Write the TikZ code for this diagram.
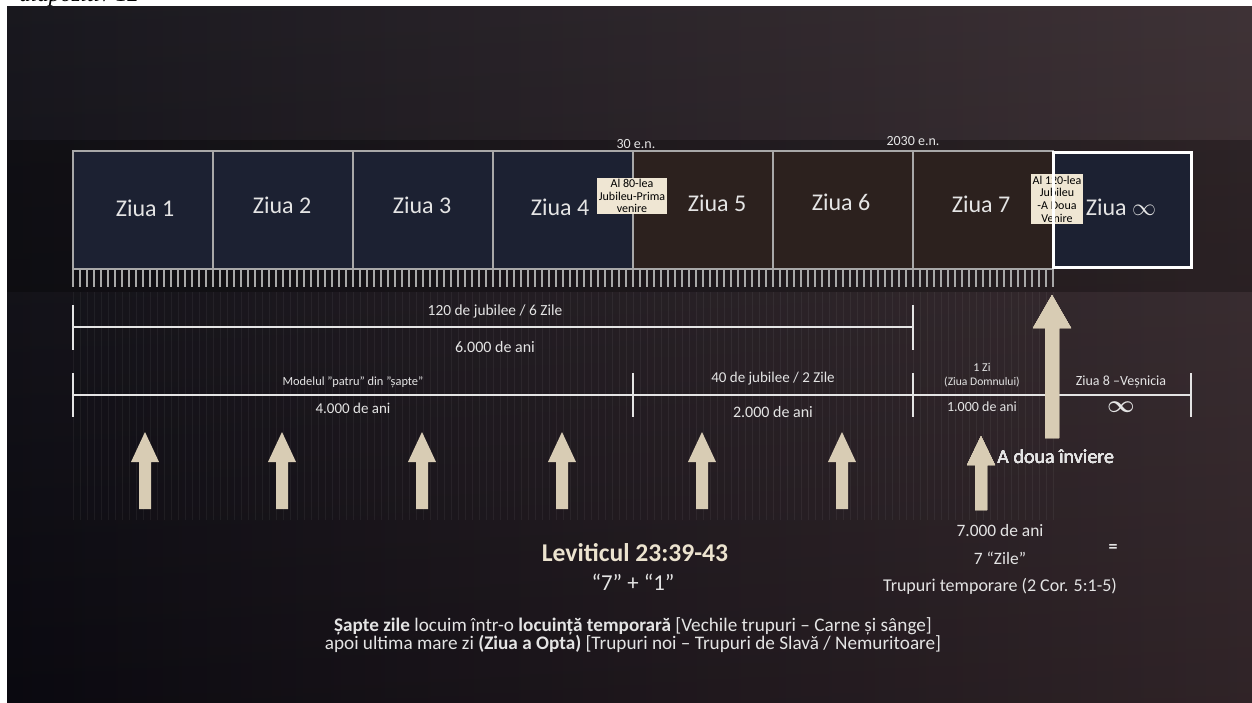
\documentclass[tikz,border=0pt]{standalone}
\usepackage{fontspec}
\setmainfont{Carlito}
\newfontfamily\capfont{Liberation Serif}
\usetikzlibrary{calc}
\definecolor{SLDdark}{HTML}{0B0A11}
\definecolor{SLDmid}{HTML}{161119}
\definecolor{SLDbrown}{HTML}{33262A}
\definecolor{SLDnavy}{HTML}{1C2132}
\definecolor{SLDrust}{HTML}{2C211E}
\definecolor{SLDbeige}{HTML}{D8CCB4}
\definecolor{SLDtag}{HTML}{EFE6D3}
\definecolor{SLDline}{HTML}{A8A8A8}
\definecolor{SLDtext}{HTML}{E4E4E4}
\definecolor{SLDlev}{HTML}{ECE3CF}

\tikzset{
  daybox/.style={draw=SLDline, line width=1pt},
  daylabel/.style={text=SLDtext, font=\fontsize{12}{14}\selectfont},
  tagbox/.style={fill=SLDtag, text=black, inner sep=0.7pt, align=center,
    font=\fontsize{6}{6.3}\selectfont},
  span/.style={draw=SLDtext, line width=1.2pt},
  spantext/.style={text=SLDtext, inner sep=0pt},
}
% up arrow: x, tip y, bottom y, head half width, shaft half width, head base y
\newcommand{\beamup}[6]{%
  \fill[SLDbeige] ({#1-#5},#3) -- ({#1-#5},#6) -- ({#1-#4},#6) -- (#1,#2)
    -- ({#1+#4},#6) -- ({#1+#5},#6) -- ({#1+#5},#3) -- cycle;}

\begin{document}
\begin{tikzpicture}[x=0.5pt, y=-0.5pt]
  \useasboundingbox (0,0) rectangle (1252,702);
  \fill[white] (0,0) rectangle (1252,702);
  % Caption cut off at the top
  \node[anchor=base west, inner sep=0pt, font=\capfont\itshape\fontsize{11.5}{12}\selectfont]
    (caption) at (19,1) {diapozitiv 12};
  % Slide background
  \shade[left color=SLDdark, middle color=SLDmid, right color=SLDbrown] (7,6) rectangle (1252,702);
  \shade[top color=white, bottom color=black, opacity=0.06] (7,6) rectangle (1252,702);
  \fill[black, opacity=0.25] (7,140) rectangle (1252,292);
  % Faint stripes under the ruler
  \foreach \x in {73,80,...,1053}
    \draw[white, opacity=0.05, line width=0.5pt] (\x,292) -- (\x,520);

  % Day boxes
  \foreach \xa/\fc/\lbl/\lx/\ly [count=\i] in
    {73/SLDnavy/Ziua 1/145/208, 213/SLDnavy/Ziua 2/282/205,
     353/SLDnavy/Ziua 3/422/205, 493/SLDnavy/Ziua 4/560/207,
     633/SLDrust/Ziua 5/717/203, 773/SLDrust/Ziua 6/841/202,
     913/SLDrust/Ziua 7/981/204}
  {
    \fill[\fc] (\xa,151) rectangle ({\xa+140},269);
    \draw[daybox] (\xa,151) rectangle ({\xa+140},269);
    \node[daylabel] (z\i) at (\lx,\ly) {\lbl};
  }
  % Eighth day
  \fill[SLDnavy] (1053,152) rectangle (1191,267);
  \node[daylabel] (zinf) at (1121,207) {Ziua $\infty$};

  % Jubilee tags
  \node[tagbox] (tag80) at (632,196) {Al 80-lea\\Jubileu-Prima\\venire};
  \node[tagbox] (tag120) at (1057,199) {Al 120-lea\\Jubileu\\-A Doua\\Venire};
  \draw[white, line width=1.5pt] (1053,152) rectangle (1191,267);

  % Ruler, one tick per jubilee
  \foreach \x in {73,80,...,1053}
    \draw[SLDline, line width=0.7pt] (\x,270) -- (\x,287);

  % Dates
  \node[spantext, font=\fontsize{7}{8}\selectfont] (en30) at (636,144) {30 e.n.};
  \node[spantext, font=\fontsize{7}{8}\selectfont] (en2030) at (913,141) {2030 e.n.};

  % Upper span: six days
  \coordinate (u0) at (73,327);
  \coordinate (u1) at (913,327);
  \draw[span] (u0) -- (u1);
  \draw[span] ($(u0)+(0,-22)$) -- ($(u0)+(0,23)$);
  \draw[span] ($(u1)+(0,-22)$) -- ($(u1)+(0,23)$);
  \node[spantext, font=\fontsize{7.7}{9}\selectfont] (jub120) at (495,311) {120 de jubilee / 6 Zile};
  \node[spantext, font=\fontsize{8}{9}\selectfont] (ani6000) at (495,347) {6.000 de ani};

  % Lower span: 4 + 2 + 1 + eighth day
  \coordinate (l0) at (73,395);
  \coordinate (l1) at (633,395);
  \coordinate (l2) at (913,395);
  \coordinate (l3) at (1191,395);
  \draw[span] (l0) -- (l3);
  \foreach \c in {l0,l1,l2,l3}
    \draw[span] ($(\c)+(0,-22)$) -- ($(\c)+(0,22)$);
  \node[spantext, font=\fontsize{6.2}{7}\selectfont] (model) at (353,382) {Modelul "patru" din "șapte"};
  \node[spantext, font=\fontsize{7.5}{8}\selectfont] (ani4000) at (353,408) {4.000 de ani};
  \node[spantext, font=\fontsize{7.5}{8}\selectfont] (jub40) at (773,379) {40 de jubilee / 2 Zile};
  \node[spantext, font=\fontsize{8}{9}\selectfont] (ani2000) at (773,412) {2.000 de ani};
  \node[spantext, font=\fontsize{6}{7}\selectfont] (zi1) at (982,367) {1 Zi};
  \node[spantext, font=\fontsize{5.8}{7}\selectfont] (domnului) at (982,382) {(Ziua Domnului)};
  \node[spantext, font=\fontsize{7}{8}\selectfont] (ani1000) at (982,407) {1.000 de ani};
  \node[spantext, font=\fontsize{7}{8}\selectfont] (ziua8) at (1121,382) {Ziua 8 –Veșnicia};
  \node[spantext, font=\fontsize{13}{13}\selectfont\boldmath] (inf) at (1121,407) {$\infty$};

  % Arrows
  \foreach \x in {145,282,422,562,702,842}
    \beamup{\x}{432}{509}{14}{6}{462}
  \beamup{981}{436}{510}{14}{6}{465}
  \beamup{1052}{295}{438}{19}{7}{328}
  \node[spantext, anchor=west, font=\fontsize{10}{12}\selectfont] (inviere) at (997,457) {A doua înviere};

  % Bottom texts
  \node[spantext, text=SLDlev, font=\bfseries\fontsize{12.8}{14}\selectfont] (levit) at (635,553) {Leviticul 23:39-43};
  \node[spantext, font=\fontsize{11.4}{13}\selectfont] (septe) at (633,582) {“7” + “1”};
  \node[spantext, font=\fontsize{8.7}{10}\selectfont] (ani7000) at (1000,531) {7.000 de ani};
  \node[spantext, font=\fontsize{8.7}{10}\selectfont] (zile7) at (1000,558) {7 “Zile”};
  \node[spantext, font=\fontsize{9}{10}\selectfont] (trupuri) at (1000,586) {Trupuri temporare (2 Cor. 5:1-5)};
  \node[spantext, font=\bfseries\fontsize{9}{10}\selectfont] (egal) at (1113,548) {=};
  \node[spantext, align=center, font={\fontsize{9.6}{8.7}\selectfont\lineskiplimit=-20pt}] (note) at (633,635)
    {\textbf{Șapte zile} locuim într-o \textbf{locuință temporară} [Vechile trupuri – Carne și sânge]\\
     apoi ultima mare zi \textbf{(Ziua a Opta)} [Trupuri noi – Trupuri de Slavă / Nemuritoare]};
\end{tikzpicture}
\end{document}
